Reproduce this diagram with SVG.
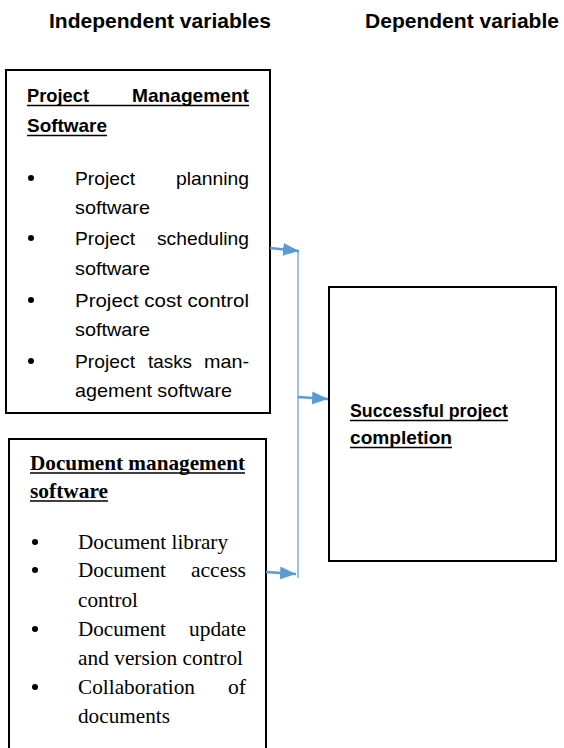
<svg xmlns="http://www.w3.org/2000/svg" width="564" height="748" viewBox="0 0 564 748">
<style>
.box{fill:#fff;stroke:#000;stroke-width:2}
.hdr{font-family:"Liberation Sans",Arial,sans-serif;font-weight:bold;font-size:21px;fill:#000}
.s{font-family:"Liberation Sans",Arial,sans-serif;font-size:19px;fill:#000}
.sb{font-family:"Liberation Sans",Arial,sans-serif;font-size:19px;font-weight:bold;fill:#000}
.t{font-family:"Liberation Serif","Times New Roman",serif;font-size:21px;fill:#000}
.tb{font-family:"Liberation Serif","Times New Roman",serif;font-size:21px;font-weight:bold;fill:#000}
.ul{stroke:#000;stroke-width:1.5}
.dot{fill:#000}
.arr{stroke:#5B9BD5;stroke-width:2.5;fill:none;marker-end:url(#ah)}
.bus{stroke:#9DC3E6;stroke-width:2;fill:none}
</style>
<defs>
<marker id="ah" markerUnits="userSpaceOnUse" markerWidth="17" markerHeight="14" refX="16" refY="6.5" orient="auto" viewBox="0 0 17 14">
<path d="M0,0 L16,6.5 L0,13 z" fill="#5B9BD5"/>
</marker>
</defs>

<g id="headers">
<text class="hdr" x="49" y="28" textLength="222" lengthAdjust="spacingAndGlyphs">Independent variables</text>
<text class="hdr" x="365" y="28" textLength="194" lengthAdjust="spacingAndGlyphs">Dependent variable</text>
</g>

<g id="pm-box">
<rect class="box" x="6" y="70" width="264" height="343"/>
<text class="sb" x="27" y="102" textLength="62" lengthAdjust="spacingAndGlyphs">Project</text>
<text class="sb" x="132" y="102" textLength="117" lengthAdjust="spacingAndGlyphs">Management</text>
<line class="ul" x1="27" y1="105.5" x2="249" y2="105.5"/>
<text class="sb" x="27" y="132" textLength="80" lengthAdjust="spacingAndGlyphs">Software</text>
<line class="ul" x1="27" y1="135.5" x2="107" y2="135.5"/>
<circle class="dot" cx="31" cy="178" r="3"/>
<text class="s" x="75" y="185" textLength="60" lengthAdjust="spacingAndGlyphs">Project</text>
<text class="s" x="176" y="185" textLength="73" lengthAdjust="spacingAndGlyphs">planning</text>
<text class="s" x="75" y="214" textLength="75" lengthAdjust="spacingAndGlyphs">software</text>
<circle class="dot" cx="31" cy="238" r="3"/>
<text class="s" x="75" y="245" textLength="60" lengthAdjust="spacingAndGlyphs">Project</text>
<text class="s" x="157" y="245" textLength="92" lengthAdjust="spacingAndGlyphs">scheduling</text>
<text class="s" x="75" y="275" textLength="75" lengthAdjust="spacingAndGlyphs">software</text>
<circle class="dot" cx="31" cy="300" r="3"/>
<text class="s" x="75" y="307" textLength="174" lengthAdjust="spacingAndGlyphs">Project cost control</text>
<text class="s" x="75" y="336" textLength="75" lengthAdjust="spacingAndGlyphs">software</text>
<circle class="dot" cx="31" cy="361" r="3"/>
<text class="s" x="75" y="368" textLength="60" lengthAdjust="spacingAndGlyphs">Project</text>
<text class="s" x="148" y="368" textLength="44" lengthAdjust="spacingAndGlyphs">tasks</text>
<text class="s" x="204" y="368" textLength="45" lengthAdjust="spacingAndGlyphs">man-</text>
<text class="s" x="75" y="397" textLength="157" lengthAdjust="spacingAndGlyphs">agement software</text>
</g>

<g id="dm-box">
<path class="box" d="M9,760 L9,439 L266,439 L266,760"/>
<text class="tb" x="30" y="470" textLength="215" lengthAdjust="spacingAndGlyphs">Document management</text>
<line class="ul" x1="30" y1="473" x2="245" y2="473"/>
<text class="tb" x="30" y="498" textLength="78" lengthAdjust="spacingAndGlyphs">software</text>
<line class="ul" x1="30" y1="501" x2="108" y2="501"/>
<circle class="dot" cx="35" cy="542" r="3"/>
<text class="t" x="78" y="549" textLength="150" lengthAdjust="spacingAndGlyphs">Document library</text>
<circle class="dot" cx="35" cy="570" r="3"/>
<text class="t" x="78" y="577" textLength="88" lengthAdjust="spacingAndGlyphs">Document</text>
<text class="t" x="191" y="577" textLength="55" lengthAdjust="spacingAndGlyphs">access</text>
<text class="t" x="78" y="607" textLength="60" lengthAdjust="spacingAndGlyphs">control</text>
<circle class="dot" cx="35" cy="629" r="3"/>
<text class="t" x="78" y="636" textLength="88" lengthAdjust="spacingAndGlyphs">Document</text>
<text class="t" x="189" y="636" textLength="57" lengthAdjust="spacingAndGlyphs">update</text>
<text class="t" x="78" y="665" textLength="165" lengthAdjust="spacingAndGlyphs">and version control</text>
<circle class="dot" cx="35" cy="687" r="3"/>
<text class="t" x="78" y="694" textLength="117" lengthAdjust="spacingAndGlyphs">Collaboration</text>
<text class="t" x="228" y="694" textLength="18" lengthAdjust="spacingAndGlyphs">of</text>
<text class="t" x="78" y="723" textLength="92" lengthAdjust="spacingAndGlyphs">documents</text>
</g>

<g id="outcome-box">
<rect class="box" x="329" y="287" width="227" height="274"/>
<text class="sb" x="350" y="417" textLength="158" lengthAdjust="spacingAndGlyphs">Successful project</text>
<line class="ul" x1="350" y1="420.5" x2="508" y2="420.5"/>
<text class="sb" x="350" y="444" textLength="102" lengthAdjust="spacingAndGlyphs">completion</text>
<line class="ul" x1="350" y1="447.5" x2="452" y2="447.5"/>
</g>

<g id="connectors">
<line class="bus" x1="298" y1="250" x2="298" y2="578"/>
<line class="arr" x1="270" y1="248" x2="299" y2="251"/>
<line class="arr" x1="298" y1="397" x2="328" y2="399"/>
<line class="arr" x1="266" y1="572" x2="296" y2="574"/>
</g>
</svg>
